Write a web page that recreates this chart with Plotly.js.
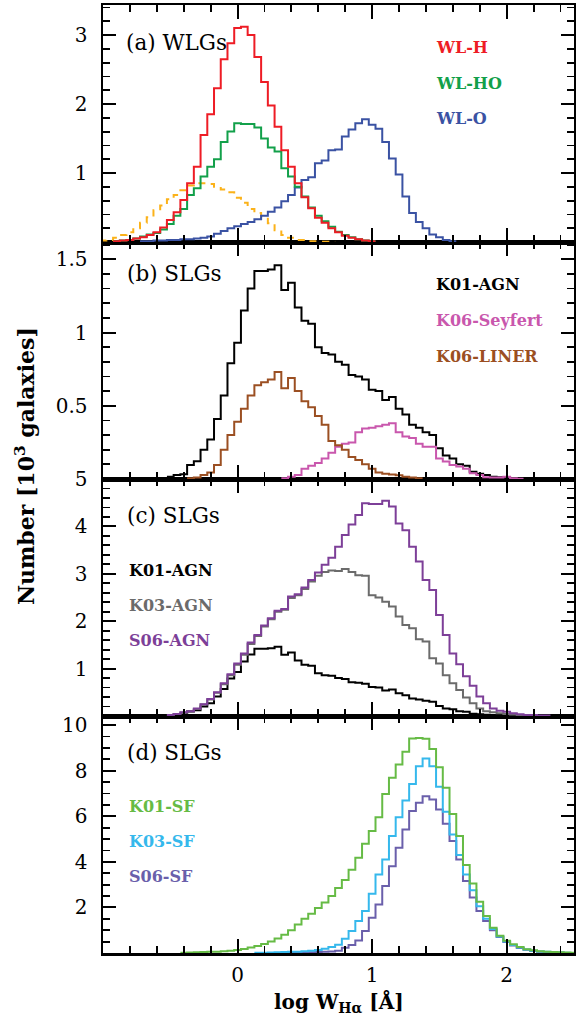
<!DOCTYPE html>
<html>
<head>
<meta charset="utf-8">
<script src="https://cdn.plot.ly/plotly-3.0.1.min.js"></script>
<style>
  html, body { margin: 0; padding: 0; background: #fff; }
  #chart { width: 576px; height: 1021px; }
</style>
</head>
<body>
<div id="chart"></div>
<script>
// Histogram bin centres in log W(Halpha), bin width 0.05 dex
const binCenters = [
  -1.00, -0.95, -0.90, -0.85, -0.80, -0.75, -0.70, -0.65, -0.60, -0.55,
  -0.50, -0.45, -0.40, -0.35, -0.30, -0.25, -0.20, -0.15, -0.10, -0.05,
   0.00,  0.05,  0.10,  0.15,  0.20,  0.25,  0.30,  0.35,  0.40,  0.45,
   0.50,  0.55,  0.60,  0.65,  0.70,  0.75,  0.80,  0.85,  0.90,  0.95,
   1.00,  1.05,  1.10,  1.15,  1.20,  1.25,  1.30,  1.35,  1.40,  1.45,
   1.50,  1.55,  1.60,  1.65,  1.70,  1.75,  1.80,  1.85,  1.90,  1.95,
   2.00,  2.05,  2.10,  2.15,  2.20,  2.25,  2.30,  2.35,  2.40,  2.45,
   2.50
];

// Counts in units of 10^3 galaxies; each series starts at the bin named *_from

// (a) weak-line galaxies
const wlH_from = -0.90;
const wlH = [0.01,0.02,0.03,0.05,0.07,0.10,0.14,0.21,0.32,0.43,0.61,0.85,1.09,1.55,1.85,2.23,2.65,2.88,3.10,3.12,
             3.00,2.68,2.32,1.98,1.67,1.33,1.09,0.85,0.65,0.49,0.35,0.28,0.20,0.14,0.09,0.06,0.04,0.02,0.01];
const wlHO_from = -0.90;
const wlHO = [0.01,0.02,0.03,0.05,0.08,0.11,0.13,0.18,0.26,0.38,0.48,0.68,0.78,0.95,1.09,1.20,1.45,1.60,1.72,1.71,
              1.71,1.66,1.50,1.37,1.31,1.07,0.95,0.80,0.66,0.50,0.38,0.30,0.22,0.15,0.10,0.07,0.04,0.02,0.01];
const wlO_from = -0.70;
const wlO = [0.01,0.01,0.02,0.02,0.03,0.03,0.04,0.04,0.05,0.06,0.08,0.12,0.16,0.20,0.23,0.26,0.29,0.33,0.38,0.44,
             0.50,0.59,0.68,0.79,0.90,0.94,1.14,1.18,1.33,1.34,1.53,1.63,1.72,1.78,1.70,1.64,1.45,1.21,0.98,0.66,
             0.42,0.29,0.20,0.11,0.07,0.03,0.01];
const wlDashed_from = -1.00;
const wlDashed = [0.02,0.03,0.06,0.10,0.14,0.20,0.28,0.36,0.46,0.53,0.62,0.68,0.75,0.82,0.85,0.85,0.84,0.80,0.76,0.72,
                  0.64,0.57,0.48,0.42,0.35,0.27,0.17,0.10,0.06,0.03,0.03,0.01,0.01,0.005,0.003];

// (b), (c) strong-line galaxies, AGN classes
const k01Agn_from = -0.50;
const k01Agn = [0.016,0.027,0.032,0.095,0.122,0.20,0.27,0.41,0.57,0.79,0.93,1.15,1.30,1.42,1.42,1.43,1.46,1.29,1.34,1.17,
                1.08,1.06,0.90,0.86,0.85,0.80,0.78,0.71,0.70,0.68,0.61,0.60,0.54,0.56,0.48,0.44,0.37,0.35,0.32,0.30,
                0.21,0.16,0.14,0.10,0.09,0.05,0.035,0.027,0.016,0.012,0.01,0.005];
const k06Sey_from = 0.35;
const k06Sey = [0.005,0.016,0.027,0.07,0.09,0.11,0.14,0.18,0.22,0.24,0.25,0.32,0.345,0.35,0.36,0.37,0.38,0.32,0.29,0.28,
                0.24,0.22,0.22,0.14,0.12,0.095,0.085,0.07,0.04,0.027,0.012,0.01,0.01,0.016,0.005,0.002];
const k06Lin_from = -0.35;
const k06Lin = [0.005,0.01,0.027,0.045,0.095,0.20,0.30,0.39,0.48,0.57,0.64,0.66,0.68,0.73,0.62,0.69,0.60,0.53,0.49,0.43,
                0.37,0.26,0.23,0.20,0.15,0.13,0.10,0.07,0.045,0.035,0.03,0.025,0.015,0.01,0.005];
const k03Agn_from = -0.50;
const k03Agn = [0.02,0.04,0.07,0.10,0.15,0.24,0.35,0.49,0.67,0.86,1.08,1.29,1.52,1.69,1.89,2.04,2.20,2.24,2.49,2.55,
                2.68,2.84,2.96,3.04,3.07,3.06,3.10,3.04,2.97,2.96,2.55,2.50,2.41,2.31,2.10,1.92,1.85,1.62,1.57,1.22,
                1.11,0.86,0.69,0.55,0.39,0.27,0.16,0.10,0.08,0.06,0.04,0.03,0.02,0.01];
const s06Agn_from = -0.50;
const s06Agn = [0.02,0.04,0.08,0.10,0.16,0.25,0.36,0.50,0.69,0.88,1.11,1.32,1.55,1.71,1.91,2.06,2.22,2.26,2.52,2.57,
                2.71,2.87,3.03,3.19,3.34,3.57,3.82,4.04,4.24,4.49,4.47,4.47,4.54,4.42,4.06,3.92,3.57,3.26,2.87,2.66,
                2.13,1.71,1.32,1.09,0.84,0.64,0.41,0.27,0.16,0.11,0.09,0.06,0.035,0.02,0.02,0.01,0.01];

// (d) strong-line galaxies, star-forming classes
const k01Sf_from = -0.40;
const k01Sf = [0.01,0.02,0.03,0.04,0.05,0.06,0.08,0.10,0.13,0.18,0.24,0.31,0.40,0.51,0.64,0.80,1.00,1.25,1.50,1.72,
               1.98,2.22,2.50,2.85,3.20,3.65,4.18,4.79,5.35,5.96,6.98,7.69,8.27,8.83,9.41,9.44,9.40,8.95,8.15,7.25,
               6.10,5.13,3.86,3.05,2.25,1.62,1.11,0.76,0.54,0.38,0.26,0.17,0.12,0.08,0.06,0.04,0.03,0.02,0.01];
const k03Sf_from = 0.15;
const k03Sf = [0.01,0.015,0.02,0.03,0.04,0.05,0.06,0.08,0.10,0.13,0.19,0.26,0.36,0.63,0.96,1.40,1.84,2.60,3.45,4.10,
               5.13,5.96,6.69,7.42,8.20,8.53,8.20,7.30,6.20,5.20,4.30,3.45,2.75,2.05,1.50,1.05,0.72,0.50,0.35,0.24,
               0.15,0.10,0.07,0.05,0.03,0.02,0.01];
const s06Sf_from = 0.35;
const s06Sf = [0.01,0.015,0.02,0.03,0.035,0.04,0.05,0.07,0.10,0.23,0.35,0.55,0.96,1.55,2.13,2.94,3.81,4.62,5.42,6.23,
               6.59,6.88,6.74,6.30,5.67,4.91,4.10,3.16,2.43,1.84,1.40,1.00,0.70,0.48,0.33,0.22,0.14,0.09,0.06,0.04,
               0.03,0.02];

// Tick labels of the four count axes and the shared x axis
const ticksA = [1, 2, 3];
const ticksB = [0.5, 1, 1.5];
const ticksC = [1, 2, 3, 4, 5];
const ticksD = [2, 4, 6, 8, 10];
const ticksX = [0, 1, 2];

// ---------------------------------------------------------------------------
const SERIF = 'DejaVu Serif, Liberation Serif, serif';
const BIN_HALF = (binCenters[1] - binCenters[0]) / 2;
const X_RANGE = [-1, 2.5];

function stepTrace(from, vals, color, ax, dash) {
  const i0 = binCenters.findIndex(c => Math.abs(c - from) < 1e-6);
  const xs = [], ys = [];
  vals.forEach((v, k) => { xs.push(binCenters[i0 + k] - BIN_HALF); ys.push(v); });
  xs.push(binCenters[i0 + vals.length - 1] + BIN_HALF);
  ys.push(vals[vals.length - 1]);
  return {
    type: 'scatter', mode: 'lines', x: xs, y: ys,
    xaxis: 'x' + ax, yaxis: 'y' + ax,
    line: { color: color, width: 2, shape: 'hv', dash: dash || 'solid' },
    hoverinfo: 'skip', showlegend: false
  };
}

const C = {
  wlH: '#ee1c25', wlHO: '#12a04a', wlO: '#3a52a3', wlDash: '#fbb21a',
  k01Agn: '#000000', k06Sey: '#c957ad', k06Lin: '#9b4f22',
  k03Agn: '#6b6b6b', s06Agn: '#7d3f98',
  k01Sf: '#66bb45', k03Sf: '#35b8ec', s06Sf: '#6a5fab'
};

// panel (a) -> axis 4, (b) -> 3, (c) -> 2, (d) -> '' (bottom)
const traces = [
  stepTrace(wlDashed_from, wlDashed, C.wlDash, '4', '7px,6px'),
  stepTrace(wlO_from, wlO, C.wlO, '4'),
  stepTrace(wlHO_from, wlHO, C.wlHO, '4'),
  stepTrace(wlH_from, wlH, C.wlH, '4'),

  stepTrace(k01Agn_from, k01Agn, C.k01Agn, '3'),
  stepTrace(k06Sey_from, k06Sey, C.k06Sey, '3'),
  stepTrace(k06Lin_from, k06Lin, C.k06Lin, '3'),

  stepTrace(k01Agn_from, k01Agn, C.k01Agn, '2'),
  stepTrace(k03Agn_from, k03Agn, C.k03Agn, '2'),
  stepTrace(s06Agn_from, s06Agn, C.s06Agn, '2'),

  stepTrace(s06Sf_from, s06Sf, C.s06Sf, ''),
  stepTrace(k03Sf_from, k03Sf, C.k03Sf, ''),
  stepTrace(k01Sf_from, k01Sf, C.k01Sf, '')
];

// empty traces so that the minor-tick overlay axes get a subplot
['5', '6', '7', '8'].forEach(n => traces.push({
  type: 'scatter', mode: 'lines', x: [null], y: [null],
  xaxis: 'x' + n, yaxis: 'y' + n, hoverinfo: 'skip', showlegend: false
}));

const frame = {
  showline: true, linecolor: '#000', linewidth: 2.5, mirror: 'ticks',
  ticks: 'inside', tickcolor: '#000',
  showgrid: false, zeroline: false, fixedrange: true
};

// labelled major ticks
function xAxis(anchor, labels) {
  return Object.assign({}, frame, {
    anchor: anchor, domain: [0, 1], range: X_RANGE,
    tickmode: 'array', tickvals: ticksX, ticktext: ticksX.map(String),
    ticklen: 14, tickwidth: 2, showticklabels: labels,
    tickfont: { family: SERIF, size: 20, color: '#000' },
    ticklabelstandoff: 2
  });
}
function yAxis(domain, top, vals) {
  return Object.assign({}, frame, {
    domain: domain, range: [0, top],
    tickmode: 'array', tickvals: vals, ticktext: vals.map(String),
    ticklen: 13, tickwidth: 2,
    tickfont: { family: SERIF, size: 20, color: '#000' },
    ticklabelstandoff: 9
  });
}

// short unlabelled ticks, laid over the main axes
function xMinor(over, anchor) {
  return Object.assign({}, frame, {
    overlaying: over, anchor: anchor, side: 'bottom', range: X_RANGE,
    tickmode: 'linear', tick0: 0, dtick: 0.2,
    ticklen: 7, tickwidth: 1.8, showticklabels: false
  });
}
function yMinor(over, anchor, top, step) {
  return Object.assign({}, frame, {
    overlaying: over, anchor: anchor, side: 'left', range: [0, top],
    tickmode: 'linear', tick0: 0, dtick: step,
    ticklen: 7, tickwidth: 1.8, showticklabels: false
  });
}

// pixel position -> paper fraction
const PL = 103, PR = 574.5, PT = 5, PB = 953;
function at(px, py) { return { x: (px - PL) / (PR - PL), y: (PB - py) / (PB - PT) }; }

function label(text, px, py, color, size, bold) {
  const p = at(px, py);
  return {
    text: bold ? '<b>' + text + '</b>' : text,
    x: p.x, y: p.y, xref: 'paper', yref: 'paper',
    xanchor: 'left', yanchor: 'middle', showarrow: false,
    font: { family: SERIF, size: size, color: color }
  };
}

const annotations = [
  label('(a) WLGs', 124, 42, '#000', 21.5, false),
  label('WL-H', 434, 48, C.wlH, 16, true),
  label('WL-HO', 434, 83, C.wlHO, 16, true),
  label('WL-O', 434, 118, C.wlO, 16, true),

  label('(b) SLGs', 125, 273, '#000', 21.5, false),
  label('K01-AGN', 434, 284, C.k01Agn, 16, true),
  label('K06-Seyfert', 434, 320, C.k06Sey, 16, true),
  label('K06-LINER', 434, 356, C.k06Lin, 16, true),

  label('(c) SLGs', 125, 515, '#000', 21.5, false),
  label('K01-AGN', 127, 570, C.k01Agn, 16, true),
  label('K03-AGN', 127, 605, C.k03Agn, 16, true),
  label('S06-AGN', 127, 640, C.s06Agn, 16, true),

  label('(d) SLGs', 125, 752, '#000', 21.5, false),
  label('K01-SF', 127, 806, C.k01Sf, 16, true),
  label('K03-SF', 127, 841, C.k03Sf, 16, true),
  label('S06-SF', 127, 876, C.s06Sf, 16, true),

  Object.assign(label('<b>Number [10<sup>3</sup> galaxies]</b>', 25, 466, '#000', 22, false),
                { xanchor: 'center', textangle: -90 }),
  Object.assign(label('<b>log W<sub>Hα</sub> [Å]</b>', 339, 1003, '#000', 20, false),
                { xanchor: 'center' })
];

const PANEL_TOP = { d: 10.4, c: 5.0, b: 1.618, a: 3.435 };

const layout = {
  width: 576, height: 1021,
  margin: { l: PL, r: 576 - PR, t: PT, b: 1021 - PB, pad: 0 },
  paper_bgcolor: '#fff', plot_bgcolor: '#fff',
  showlegend: false,

  xaxis:  xAxis('y', true),
  xaxis2: xAxis('y2', false),
  xaxis3: xAxis('y3', false),
  xaxis4: xAxis('y4', false),
  yaxis:  yAxis([0, 0.25], PANEL_TOP.d, ticksD),
  yaxis2: yAxis([0.25, 0.5], PANEL_TOP.c, ticksC),
  yaxis3: yAxis([0.5, 0.75], PANEL_TOP.b, ticksB),
  yaxis4: yAxis([0.75, 1], PANEL_TOP.a, ticksA),

  xaxis5: xMinor('x', 'y'),
  xaxis6: xMinor('x2', 'y2'),
  xaxis7: xMinor('x3', 'y3'),
  xaxis8: xMinor('x4', 'y4'),
  yaxis5: yMinor('y', 'x', PANEL_TOP.d, 0.5),
  yaxis6: yMinor('y2', 'x2', PANEL_TOP.c, 0.2),
  yaxis7: yMinor('y3', 'x3', PANEL_TOP.b, 0.1),
  yaxis8: yMinor('y4', 'x4', PANEL_TOP.a, 0.2),

  annotations: annotations
};

Plotly.newPlot('chart', traces, layout, { staticPlot: true, displayModeBar: false });
</script>
</body>
</html>
